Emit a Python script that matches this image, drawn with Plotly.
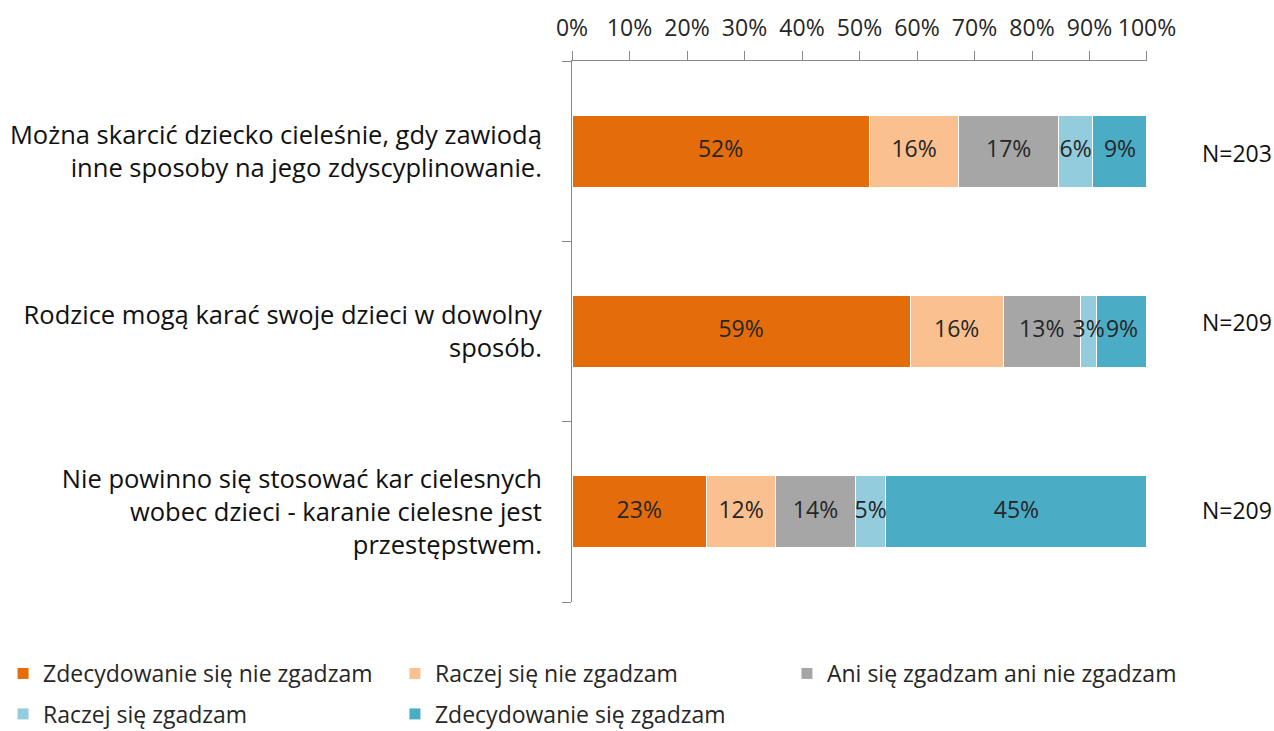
import numpy as np
import plotly.graph_objects as go

categories = [
    "Można skarcić dziecko cieleśnie, gdy zawiodą<br>inne sposoby na jego zdyscyplinowanie.",
    "Rodzice mogą karać swoje dzieci w dowolny<br>sposób.",
    "Nie powinno się stosować kar cielesnych<br>wobec dzieci - karanie cielesne jest<br>przestępstwem.",
]
series_names = [
    "Zdecydowanie się nie zgadzam",
    "Raczej się nie zgadzam",
    "Ani się zgadzam ani nie zgadzam",
    "Raczej się zgadzam",
    "Zdecydowanie się zgadzam",
]
strongly_disagree = [51.7, 58.8, 23.4]
rather_disagree = [15.6, 16.2, 12.0]
neutral = [17.3, 13.4, 13.9]
rather_agree = [6.0, 2.9, 5.3]
strongly_agree = [9.4, 8.7, 45.4]
n_labels = ["N=203", "N=209", "N=209"]
x_ticks = [0, 10, 20, 30, 40, 50, 60, 70, 80, 90, 100]

colors = ["#E46C0A", "#FAC090", "#A6A6A6", "#93CDDD", "#4BACC6"]
series_values = [strongly_disagree, rather_disagree, neutral, rather_agree, strongly_agree]

# styling / placement (not data)
n_yshift = [-2, 10, 2]
legend_ids = ["legend", "legend2", "legend3", "legend4", "legend5"]
legend_pos = [(0.0024, 0.0787), (0.3100, 0.0787), (0.6177, 0.0787),
              (0.0024, 0.0233), (0.3100, 0.0233)]

FONT = "'Open Sans', sans-serif"
TXT = "#262626"

fig = go.Figure()
for name, vals, col, lid in zip(series_names, series_values, colors, legend_ids):
    fig.add_trace(go.Bar(
        y=categories, x=vals, name=name, orientation="h",
        marker=dict(color=col, line=dict(color="white", width=1)),
        width=0.4, textposition="none",
        legend=lid, hoverinfo="x+name",
    ))

# segment labels drawn on top of all bars (positions derived from the data)
vals_arr = np.array(series_values, dtype=float)
ends = np.cumsum(vals_arr, axis=0)
mids = ends - vals_arr / 2.0
for i in range(len(series_names)):
    fig.add_trace(go.Scatter(
        x=mids[i], y=categories, mode="text",
        text=[f"{v:.0f}%" for v in vals_arr[i]],
        textposition="middle center",
        textfont=dict(size=23, color=TXT, family=FONT),
        showlegend=False, hoverinfo="skip", cliponaxis=False,
    ))

for cat, lab, ys in zip(categories, n_labels, n_yshift):
    fig.add_annotation(
        x=1, xref="paper", xanchor="left", xshift=53,
        y=cat, yref="y", yanchor="middle", yshift=ys,
        text=lab, showarrow=False,
        font=dict(size=23, color="#111111", family=FONT),
    )

layout_legends = {}
for lid, (lx, ly) in zip(legend_ids, legend_pos):
    layout_legends[lid] = dict(
        orientation="v", xref="container", yref="container",
        x=lx, xanchor="left", y=ly, yanchor="middle",
        font=dict(size=23, color=TXT, family=FONT),
        itemclick=False, itemdoubleclick=False,
        bgcolor="rgba(0,0,0,0)", borderwidth=0,
    )

fig.update_layout(
    width=1274, height=731,
    barmode="stack",
    plot_bgcolor="white", paper_bgcolor="white",
    margin=dict(l=572, r=127, t=61, b=129, autoexpand=False),
    font=dict(family=FONT, color=TXT),
    showlegend=True,
    xaxis=dict(
        side="top", range=[0, 100.001], tickvals=x_ticks,
        ticktext=[f"{v}%" for v in x_ticks],
        showgrid=False, zeroline=False,
        showline=True, linecolor="#888888", linewidth=1,
        ticks="outside", ticklen=9, tickcolor="#888888",
        tickfont=dict(size=23, color=TXT, family=FONT),
        ticklabelstandoff=6,
        fixedrange=True,
    ),
    yaxis=dict(
        categoryorder="array", categoryarray=categories[::-1],
        showgrid=False, zeroline=False,
        showline=True, linecolor="#888888", linewidth=1,
        ticks="outside", ticklen=9, tickcolor="#888888",
        tickson="boundaries",
        tickfont=dict(size=25.5, color="#111111", family=FONT),
        ticklabelstandoff=24,
        fixedrange=True,
    ),
    **layout_legends,
)

fig.write_html(
    "out.html",
    config={"displayModeBar": False},
    post_script="document.body.style.margin='0';document.body.style.overflow='hidden';",
)
